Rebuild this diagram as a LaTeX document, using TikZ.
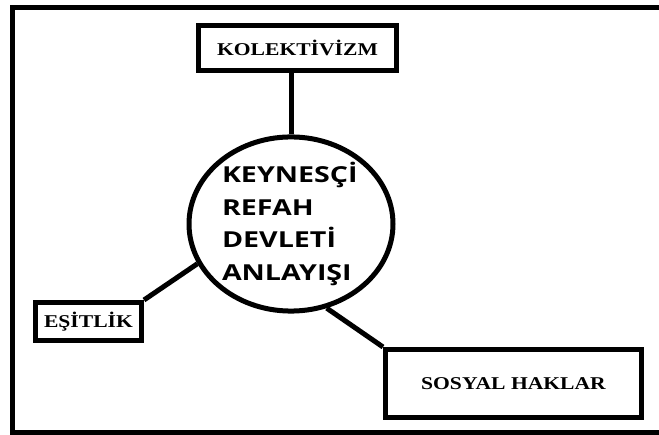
\documentclass[tikz,border=0pt]{standalone}
\usepackage{fontspec}
\usepackage{tikz}
\usetikzlibrary{shapes.geometric}
\newfontfamily\boxfont[FakeStretch=1.2]{Liberation Serif}
\newfontfamily\circfont[FakeStretch=1.3]{Open Sans}

\begin{document}
\begin{tikzpicture}[x=1pt,y=-1pt,line width=5pt,
    kutu/.style={draw,rectangle,inner sep=0pt,
      font=\boxfont\bfseries\fontsize{18}{20}\selectfont},
    halka/.style={draw,ellipse,inner sep=0pt,align=left,text width=138pt,
      minimum width=204pt,minimum height=168pt,
      font=\circfont\bfseries\fontsize{22}{32.5}\selectfont}]
          \useasboundingbox (0,0) rectangle (659,435);
          % frame
          \draw (659,7.5) -- (12,7.5) -- (12,432.5) -- (659,432.5);
          \node[halka] (keynes) at (291,224) {KEYNESÇİ\\REFAH\\DEVLETİ\\ANLAYIŞI};
          \node[kutu,minimum width=198pt,minimum height=45pt] (kolektivizm) at (297.5,48) {KOLEKTİVİZM};
          \node[kutu,minimum width=106pt,minimum height=38pt] (esitlik) at (88.5,321.5) {EŞİTLİK};
          \node[kutu,minimum width=256pt,minimum height=68pt] (sosyal) at (513.5,383.5) {SOSYAL HAKLAR};
          \draw (keynes.north) -- (keynes.north |- kolektivizm.south);
          \draw (keynes.203) -- (esitlik.north east);
          \draw (keynes.293) -- (sosyal.north west);
        \end{tikzpicture}
\end{document}
